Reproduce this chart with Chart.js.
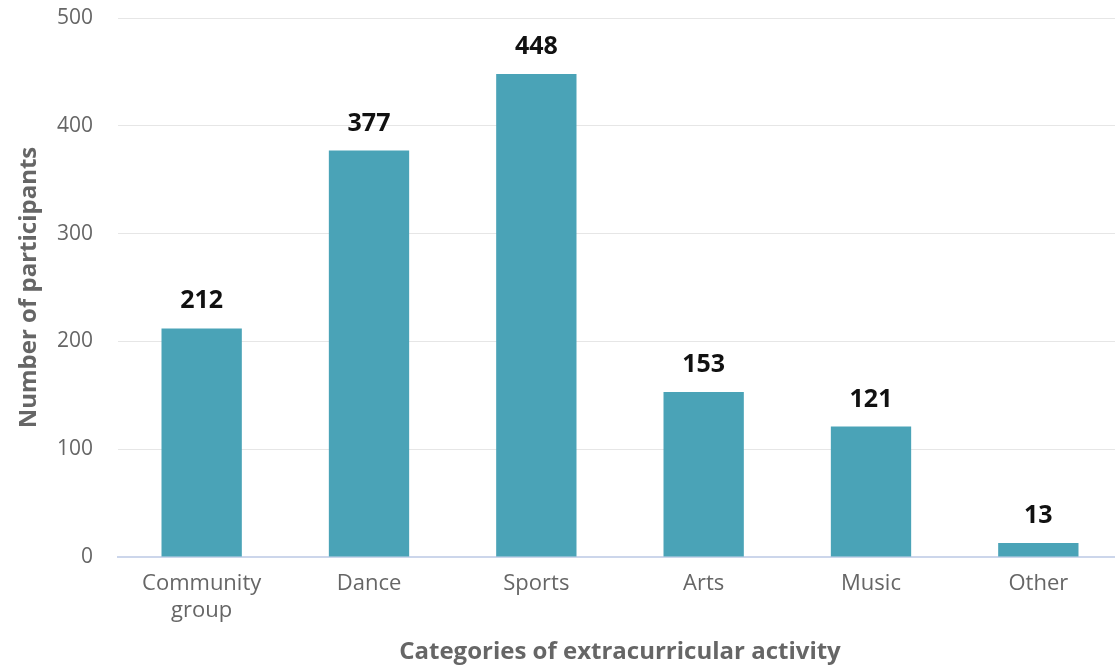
<!DOCTYPE html>
<html>
<head>
<meta charset="utf-8">
<script src="https://cdn.jsdelivr.net/npm/chart.js@4"></script>
<style>
  html, body { margin: 0; padding: 0; background: #fff; overflow: hidden; }
  #wrap { width: 1122px; height: 669px; position: relative; }
</style>
</head>
<body>
<div id="wrap"><canvas id="activityChart"></canvas></div>
<script>
const categories = [["Community", "group"], "Dance", "Sports", "Arts", "Music", "Other"];
const participants = [212, 377, 448, 153, 121, 13];
const yTicks = [0, 100, 200, 300, 400, 500];

const FONT = "'Open Sans', 'DejaVu Sans', sans-serif";

// value labels above each bar
const barLabels = {
  id: "barLabels",
  afterDatasetsDraw(chart) {
    const ctx = chart.ctx;
    const meta = chart.getDatasetMeta(0);
    ctx.save();
    ctx.font = "bold 25px " + FONT;
    ctx.fillStyle = "#111";
    ctx.textAlign = "center";
    ctx.textBaseline = "alphabetic";
    meta.data.forEach((bar, i) => {
      ctx.fillText(String(participants[i]), bar.x, bar.y - 20);
    });
    ctx.restore();
  },
};

new Chart(document.getElementById("activityChart"), {
  type: "bar",
  data: {
    labels: categories,
    datasets: [
      {
        data: participants,
        backgroundColor: "#4aa3b7",
        borderWidth: 0,
        barPercentage: 0.48,
        categoryPercentage: 1,
      },
    ],
  },
  options: {
    responsive: true,
    maintainAspectRatio: false,
    animation: false,
    layout: { padding: { top: 0, right: 0, left: 15, bottom: 2 } },
    plugins: {
      legend: { display: false },
      tooltip: { enabled: false },
    },
    scales: {
      x: {
        afterFit(scale) {
          scale.height = 110;
        },
        grid: { display: false },
        border: { display: true, color: "#ccd6eb", width: 2 },
        ticks: {
          color: "#666",
          font: { family: FONT, size: 22 },
          padding: 6,
          maxRotation: 0,
        },
        title: {
          display: true,
          text: "Categories of extracurricular activity",
          color: "#666",
          font: { family: FONT, size: 24, weight: "bold" },
          padding: { top: 0, bottom: 0 },
        },
      },
      y: {
        min: 0,
        max: 500,
        afterBuildTicks(scale) {
          scale.ticks = yTicks.map((v) => ({ value: v }));
        },
        afterFit(scale) {
          scale.width = 103;
          scale.paddingTop = 18;
          scale.paddingBottom = 0;
        },
        grid: { color: "#e6e6e6", drawTicks: false },
        border: { display: false },
        ticks: {
          color: "#666",
          font: { family: FONT, size: 21 },
          padding: 25,
        },
        title: {
          display: true,
          text: "Number of participants",
          color: "#666",
          font: { family: FONT, size: 24, weight: "bold" },
          padding: { top: 0, bottom: 0 },
        },
      },
    },
  },
  plugins: [barLabels],
});
</script>
</body>
</html>
